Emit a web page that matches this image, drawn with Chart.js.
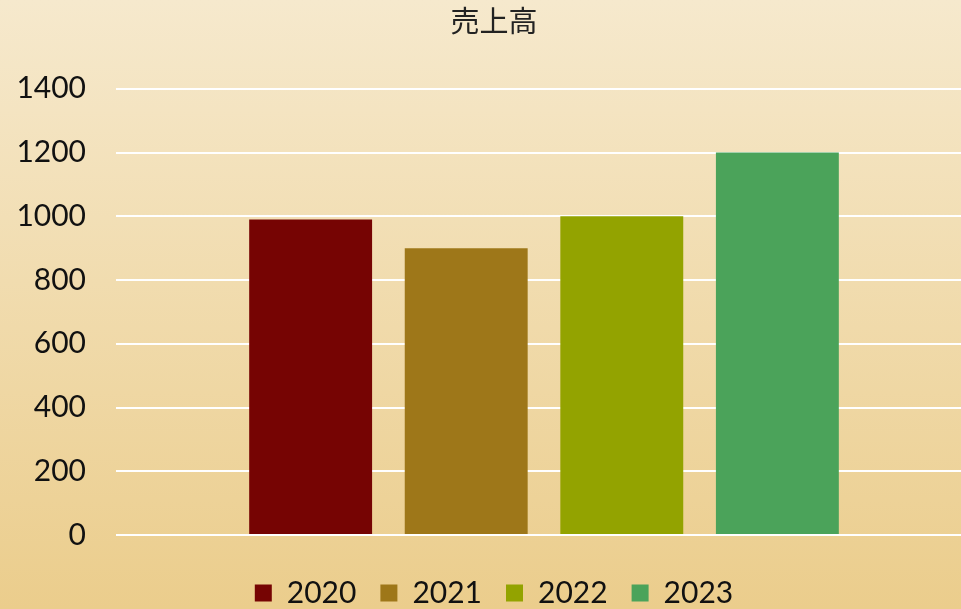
<!DOCTYPE html>
<html>
<head>
<meta charset="utf-8">
<script src="https://cdn.jsdelivr.net/npm/chart.js@4"></script>
<style>
  html, body { margin: 0; padding: 0; overflow: hidden; }
  body {
    width: 961px; height: 609px;
    background: linear-gradient(to bottom, #f6e9cd 0%, #ebcd8c 100%);
  }
  #wrap { width: 1000px; height: 609px; }
</style>
</head>
<body>
<div id="wrap"><canvas id="salesChart" width="1000" height="609"></canvas></div>
<script>
// 売上高 by year
const years = ["2020", "2021", "2022", "2023"];
const sales = [990, 900, 1000, 1200];
const barColors = ["#760403", "#9e7719", "#93a300", "#4ba35a"];
const yTicks = [0, 200, 400, 600, 800, 1000, 1200, 1400];

const FONT = "Lato, 'Noto Sans', sans-serif";

const datasets = years.map((y, i) => ({
    label: y,
    data: [sales[i]],
    backgroundColor: barColors[i],
    borderWidth: 0,
    categoryPercentage: 0.727,
    barPercentage: 0.79,
}));

new Chart(document.getElementById("salesChart").getContext("2d"), {
    type: "bar",
    data: { labels: [""], datasets: datasets },
    options: {
        responsive: false,
        animation: false,
        layout: { padding: { top: 0, right: 28, bottom: -9, left: 16 } },
        plugins: {
            title: {
                display: true,
                text: "売上高",
                color: "#222",
                font: { family: "'Noto Sans CJK JP', sans-serif", size: 29, weight: "normal" },
                padding: { top: 4, bottom: 50 },
            },
            legend: {
                position: "bottom",
                labels: {
                    color: "#111",
                    font: { family: FONT, size: 30 },
                    boxWidth: 17,
                    boxHeight: 17,
                    padding: 24,
                },
            },
            tooltip: { enabled: false },
        },
        scales: {
            x: {
                display: true,
                grid: { display: false },
                border: { display: false },
                ticks: { display: false },
                afterFit: (axis) => { axis.height = 19; },
            },
            y: {
                min: 0,
                max: 1400,
                afterBuildTicks: (axis) => {
                    axis.ticks = yTicks.map((v) => ({ value: v }));
                },
                afterFit: (axis) => { axis.width = 100; },
                border: { display: false },
                grid: { color: "#ffffff", lineWidth: 2, drawTicks: false },
                ticks: {
                    color: "#111",
                    font: { family: FONT, size: 30 },
                    padding: 30,
                    callback: (v) => String(v),
                },
            },
        },
    },
});
</script>
</body>
</html>
